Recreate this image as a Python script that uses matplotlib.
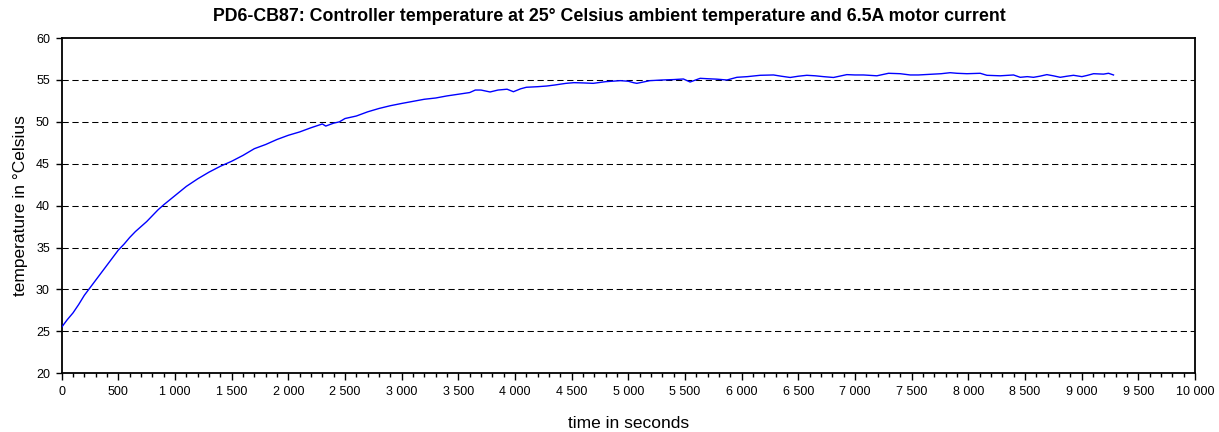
import matplotlib
matplotlib.use("Agg")
import matplotlib.pyplot as plt
from matplotlib.ticker import MultipleLocator, FuncFormatter

plt.rcParams['font.family'] = ['Liberation Sans', 'DejaVu Sans']

title = "PD6-CB87: Controller temperature at 25° Celsius ambient temperature and 6.5A motor current"
x_label = "time in seconds"
y_label = "temperature in °Celsius"

time_s = [0, 50, 100, 150, 200, 250, 300, 350, 400, 450, 500, 550, 600, 650, 700,
          750, 800, 850, 900, 1000, 1100, 1200, 1300, 1400, 1500, 1600, 1700, 1800,
          1900, 2000, 2100, 2200, 2300, 2330, 2400, 2450, 2500, 2600, 2700, 2800,
          2900, 3000, 3100, 3200, 3300, 3400, 3500, 3600, 3650, 3700, 3780, 3850,
          3930, 3986, 4050, 4100, 4200, 4280, 4350, 4450, 4520, 4600, 4690, 4800,
          4930, 5000, 5045, 5075, 5190, 5300, 5400, 5486, 5545, 5634, 5700, 5780,
          5870, 5958, 6050, 6163, 6281, 6350, 6428, 6500, 6575, 6650, 6722, 6810,
          6928, 7000, 7075, 7193, 7296, 7399, 7487, 7560, 7693, 7760, 7840, 7900,
          7988, 8105, 8164, 8281, 8399, 8458, 8520, 8575, 8630, 8693, 8750, 8811,
          8870, 8928, 9002, 9050, 9105, 9193, 9237, 9281]
temp_c = [25.5, 26.4, 27.2, 28.2, 29.3, 30.2, 31.1, 32.0, 32.9, 33.8, 34.7, 35.4,
          36.2, 36.9, 37.5, 38.1, 38.8, 39.5, 40.1, 41.2, 42.3, 43.2, 44.0, 44.7,
          45.3, 46.0, 46.8, 47.3, 47.9, 48.4, 48.8, 49.3, 49.75, 49.5, 49.85, 50.0,
          50.4, 50.7, 51.2, 51.6, 51.93, 52.2, 52.45, 52.7, 52.85, 53.1, 53.3, 53.5,
          53.8, 53.8, 53.57, 53.8, 53.9, 53.6, 53.95, 54.13, 54.2, 54.28, 54.4, 54.6,
          54.68, 54.65, 54.6, 54.8, 54.92, 54.85, 54.68, 54.6, 54.92, 55.0, 55.05,
          55.12, 54.76, 55.2, 55.15, 55.1, 55.0, 55.32, 55.4, 55.56, 55.6, 55.45,
          55.3, 55.45, 55.56, 55.5, 55.4, 55.3, 55.64, 55.6, 55.6, 55.5, 55.8, 55.75,
          55.6, 55.6, 55.7, 55.75, 55.87, 55.8, 55.75, 55.8, 55.56, 55.5, 55.6, 55.32,
          55.4, 55.32, 55.45, 55.64, 55.5, 55.32, 55.45, 55.56, 55.4, 55.55, 55.75,
          55.7, 55.8, 55.6]

fig = plt.figure(figsize=(12.19, 4.32), dpi=100)
ax = fig.add_axes([0.0506, 0.1361, 0.9297, 0.7757])

ax.plot(time_s, temp_c, color='#0000FF', lw=1.0, zorder=3)

ax.set_xlim(0, 10000)
ax.set_ylim(20, 60)
ax.xaxis.set_major_locator(MultipleLocator(500))
ax.xaxis.set_minor_locator(MultipleLocator(100))
ax.yaxis.set_major_locator(MultipleLocator(5))
ax.xaxis.set_major_formatter(FuncFormatter(lambda v, p: f"{int(v):,}".replace(",", " ")))

ax.tick_params(axis='x', which='major', direction='out', length=5, width=1, labelsize=9, pad=4)
ax.tick_params(axis='x', which='minor', direction='out', length=3, width=1)
ax.tick_params(axis='y', which='major', direction='out', length=4.5, width=1, labelsize=9, pad=4)

for y in [25, 30, 35, 40, 45, 50, 55]:
    ax.axhline(y, color='black', lw=0.75, dashes=(6, 3.5), zorder=1)

for s in ax.spines.values():
    s.set_linewidth(1.3)

fig.text(0.5, 0.962, title, fontsize=12.8, fontweight='bold', ha='center', va='center')
ax.set_xlabel(x_label, fontsize=12.5, labelpad=13)
ax.set_ylabel(y_label, fontsize=12.5, labelpad=6)

fig.savefig("out.png", dpi=100)
